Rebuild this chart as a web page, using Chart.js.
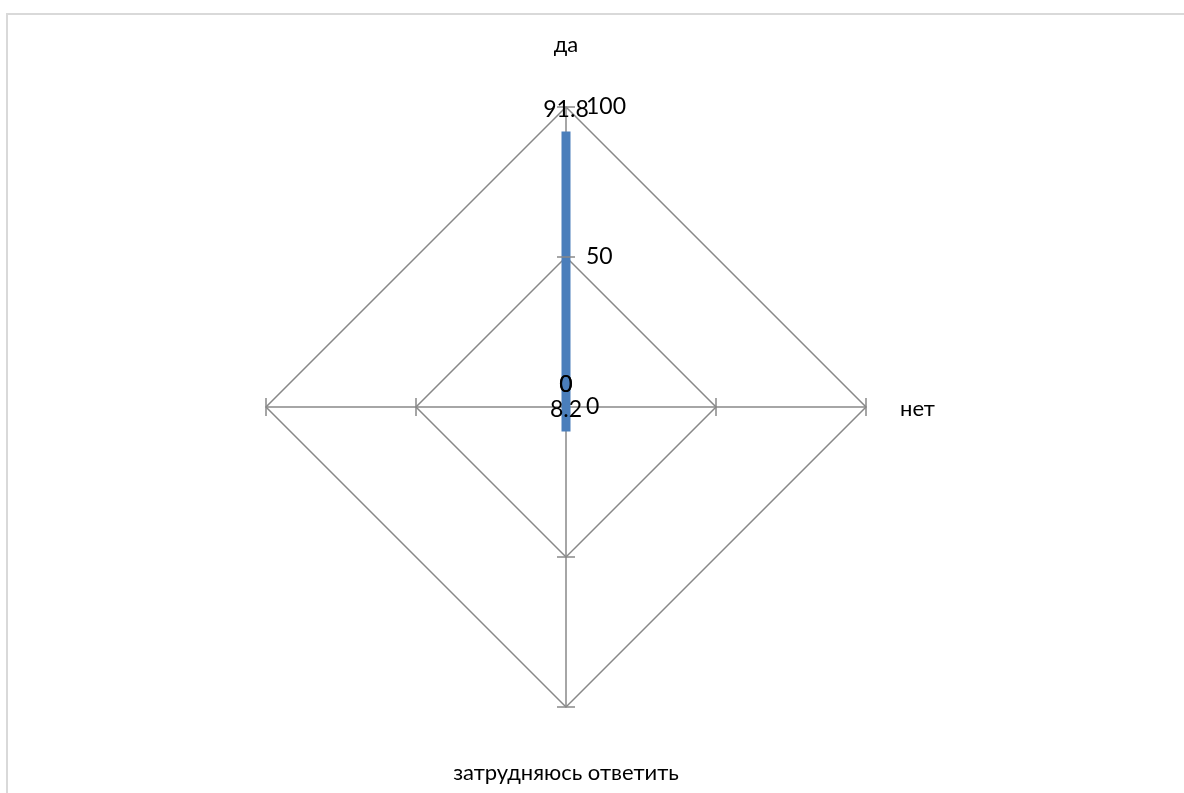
<!DOCTYPE html>
<html>
<head>
<meta charset="utf-8">
<script src="https://cdn.jsdelivr.net/npm/chart.js@4/dist/chart.umd.min.js"></script>
<style>
	html, body { margin: 0; padding: 0; background: #fff; }
	#wrap { position: absolute; left: 0; top: 0; width: 1184px; height: 793px; }
	#frame { position: absolute; left: 6px; top: 13px; width: 1200px; height: 800px; border: 2px solid #d9d9d9; box-sizing: border-box; }
</style>
</head>
<body>
<div id="wrap">
	<div id="frame"></div>
	<canvas id="radar" width="1184" height="793"></canvas>
</div>
<script>
const categories = ['да', 'нет', 'затрудняюсь ответить', ''];
const values = [91.8, 0, 8.2, 0];
const tickValues = [0, 50, 100];

const gridColor = '#888888';
const fontFamily = 'Lato, "Noto Sans", sans-serif';

/* draws tick marks, tick labels, value labels and category labels */
const excelRadar = {
	id: 'excelRadar',
	afterDraw(chart) {
		const scale = chart.scales.r;
		const ctx = chart.ctx;
		const n = categories.length;
		ctx.save();

		// small cross marks on every spoke
		ctx.strokeStyle = gridColor;
		ctx.lineWidth = 1.5;
		for (let i = 0; i < n; i++) {
			const ang = scale.getIndexAngle(i) - Math.PI / 2;
			const px = -Math.sin(ang), py = Math.cos(ang);
			tickValues.forEach((v) => {
				if (v === 0) return;
				const p = scale.getPointPositionForValue(i, v);
				ctx.beginPath();
				ctx.moveTo(p.x - px * 9, p.y - py * 9);
				ctx.lineTo(p.x + px * 9, p.y + py * 9);
				ctx.stroke();
			});
		}

		// tick labels right of the vertical axis
		ctx.fillStyle = '#000';
		ctx.font = '23px ' + fontFamily;
		ctx.textAlign = 'left';
		ctx.textBaseline = 'middle';
		tickValues.forEach((v) => {
			const p = scale.getPointPositionForValue(0, v);
			ctx.fillText(String(v), p.x + 20, p.y);
		});

		// value labels above points
		ctx.textAlign = 'center';
		values.forEach((v, i) => {
			const p = scale.getPointPositionForValue(i, v);
			ctx.fillText(String(v), p.x, p.y - 22);
		});

		// category labels
		ctx.font = '22px ' + fontFamily;
		const r = scale.drawingArea;
		categories.forEach((label, i) => {
			if (!label) return;
			const p = scale.getPointPosition(i, r);
			if (i === 0) {
				ctx.textAlign = 'center';
				ctx.fillText(label, p.x, p.y - 62);
			} else if (i === 1) {
				ctx.textAlign = 'left';
				ctx.fillText(label, p.x + 34, p.y + 2);
			} else if (i === 2) {
				ctx.textAlign = 'center';
				ctx.fillText(label, p.x, p.y + 66);
			} else {
				ctx.textAlign = 'right';
				ctx.fillText(label, p.x - 34, p.y + 2);
			}
		});
		ctx.restore();
	}
};

const radarChart = new Chart(document.getElementById('radar'), {
	type: 'radar',
	data: {
		labels: categories,
		datasets: [
			{
				label: 'Ряд1',
				data: values,
				borderColor: '#4a7ebb',
				backgroundColor: 'rgba(0,0,0,0)',
				borderWidth: 9,
				borderJoinStyle: 'bevel',
				borderCapStyle: 'butt',
				fill: false,
				pointRadius: 0,
				pointHoverRadius: 0,
				tension: 0
			}
		]
	},
	options: {
		responsive: false,
		animation: false,
		events: [],
		layout: {
			padding: { left: 266, right: 318, top: 107, bottom: 86 }
		},
		plugins: {
			legend: { display: false },
			tooltip: { enabled: false }
		},
		scales: {
			r: {
				min: 0,
				max: 100,
				ticks: { display: false, stepSize: 50 },
				pointLabels: { display: false },
				grid: { color: gridColor, lineWidth: 1.5 },
				angleLines: { color: gridColor, lineWidth: 1.5 }
			}
		}
	},
	plugins: [excelRadar]
});
</script>
</body>
</html>
